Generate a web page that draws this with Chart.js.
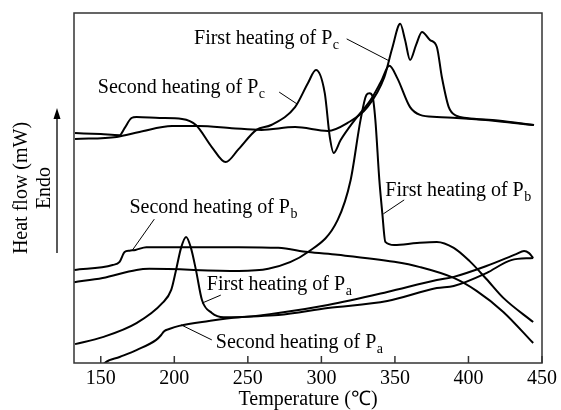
<!DOCTYPE html>
<html><head><meta charset="utf-8">
<script src="https://cdn.jsdelivr.net/npm/chart.js@4"></script>
<style>html,body{margin:0;padding:0;background:#fff}</style>
</head><body>
<canvas id="c" width="561" height="410"></canvas>
<script>
// ---- data (temperature in °C, heat flow in arbitrary units) ----
const pc1T = [132.5,160.8,176.3,198.5,216.7,239.0,259.2,282.1,304.4,317.8,331.3,342.8,348.2,353.6,356.9,360.3,364.4,368.4,373.8,378.5,381.9,386.6,392.0,398.7,420,444.6];
const pc1  = [64.0,64.6,66.0,67.7,67.7,67.1,66.6,67.4,66.3,68.6,73.1,81.7,90.0,96.9,92.3,86.6,90.9,94.6,92.3,90.3,81.7,73.1,70.6,70.0,69.3,68.0];

const pc2T = [132.5,150,162.8,166.2,170.9,174.3,190,205.3,214.7,225.5,234.9,243.7,255.8,265.9,282.1,290.9,296.3,302.3,305.7,308.4,313.1,322.6,333.4,340.4,346.2,351.6,360.3,367.1,378.5,392,420,444];
const pc2  = [65.7,65.4,65.1,67.1,70.0,70.3,70.0,69.7,68.0,61.7,57.4,61.1,66.6,68.0,73.1,80.0,83.7,77.1,64.6,60.0,63.7,69.4,75.1,80.3,84.9,81.4,73.1,70.9,70.3,70.0,69.1,68.0];

const pb1T = [132,151.3,174.3,183.0,243.7,263.9,290.9,311.1,319.9,326.6,330.6,332.7,334.7,336.7,339.4,341.4,343.5,349.5,365.0,378.5,390.0,400.8,412.2,423.7,444];
const pb1  = [23.1,24.3,26.6,26.9,26.3,26.9,31.7,40.9,52.3,69.4,76.6,77.1,76.3,69.4,52.3,42.9,34.6,33.7,34.3,34.6,32.9,29.1,24.0,18.6,11.7];

const pb2T = [132,158.1,162.8,166.2,169.5,173.6,181.0,203.3,243.7,270.7,290.9,311.1,349.5,367.1,390.0,405.5,423.7,444];
const pb2  = [26.6,28.0,28.9,31.7,32.1,32.3,33.1,33.1,33.1,32.9,31.7,30.9,28.9,27.4,24.3,20.6,14.6,5.7];

const pa1T = [132.5,151.3,174.3,191.8,197.9,201.2,204.6,208.0,211.3,214.7,218.8,225.5,233.6,243.7,270.7,304.4,344.8,378.5,390.0,412.2,432.4,437.8,441.2,444];
const pa1  = [5.4,7.4,11.4,17.1,20.9,26.6,32.9,36.0,32.9,26.6,18.0,14.3,13.1,13.1,14.3,16.6,20.3,23.7,24.6,27.7,31.1,32.0,31.4,30.0];

const pa2T = [150,152.7,162.8,174.3,187.7,191.1,193.1,196.5,203.3,223.5,243.7,270.7,304.4,344.8,378.5,390.0,412.2,429.1,444];
const pa2  = [-1.5,0,1.7,3.7,6.6,8.0,9.1,9.7,10.6,12.0,13.1,13.7,15.7,17.7,21.4,22.0,25.7,29.4,30.0];

const xTickStep = 50;

// ---- annotation layout (text anchor & leader lines in data coordinates) ----
const notes = [
  {text:'First heating of P',  sub:'c', at:[213.4,91.1], from:[317.2,92.6], to:[346.2,86.3]},
  {text:'Second heating of P', sub:'c', at:[148.0,77.1], from:[271.3,77.4], to:[283.5,74.0]},
  {text:'Second heating of P', sub:'b', at:[169.5,42.9], from:[186.4,41.1], to:[171.6,32.3]},
  {text:'First heating of P',  sub:'b', at:[343.5,47.7], from:[356.3,46.6], to:[342.1,42.6]},
  {text:'First heating of P',  sub:'a', at:[222.1,20.9], from:[231.6,19.4], to:[218.8,17.1]},
  {text:'Second heating of P', sub:'a', at:[228.2,4.3],  from:[225.5,6.6],  to:[204.6,10.9]}
];

const FONT = "'Liberation Serif','Times New Roman',serif";
const series = [[pc1T,pc1],[pc2T,pc2],[pb1T,pb1],[pb2T,pb2],[pa1T,pa1],[pa2T,pa2]];
const datasets = series.map(([t,v]) => ({
  data: t.map((x,i)=>({x:x, y:v[i]})),
  borderColor:'#000', borderWidth:2, pointRadius:0, fill:false,
  cubicInterpolationMode:'monotone'
}));

const decor = {
  id:'decor',
  afterDraw(chart){
    const {ctx, chartArea:a, scales:{x,y}} = chart;
    ctx.save();
    // frame
    ctx.strokeStyle='#333'; ctx.lineWidth=1.5;
    ctx.strokeRect(a.left, a.top, a.right-a.left, a.bottom-a.top);
    // inward ticks
    x.ticks.forEach(t=>{
      const px = x.getPixelForValue(t.value);
      ctx.beginPath(); ctx.moveTo(px,a.bottom); ctx.lineTo(px,a.bottom-7); ctx.stroke();
    });
    // Endo arrow
    const ax = a.left-17, ay0 = a.bottom-110, ay1 = a.top+95;
    ctx.strokeStyle='#000'; ctx.lineWidth=1.3;
    ctx.beginPath(); ctx.moveTo(ax,ay0); ctx.lineTo(ax,ay1+8); ctx.stroke();
    ctx.fillStyle='#000';
    ctx.beginPath(); ctx.moveTo(ax,ay1); ctx.lineTo(ax-3.5,ay1+11); ctx.lineTo(ax+3.5,ay1+11); ctx.closePath(); ctx.fill();
    // annotations
    ctx.lineWidth=1; ctx.strokeStyle='#000'; ctx.textBaseline='alphabetic'; ctx.textAlign='left';
    notes.forEach(n=>{
      const px = x.getPixelForValue(n.at[0]), py = y.getPixelForValue(n.at[1]);
      ctx.font = '20px '+FONT;
      ctx.fillText(n.text, px, py);
      const w = ctx.measureText(n.text).width;
      ctx.font = '14px '+FONT;
      ctx.fillText(n.sub, px+w+0.5, py+5);
      ctx.beginPath();
      ctx.moveTo(x.getPixelForValue(n.from[0]), y.getPixelForValue(n.from[1]));
      ctx.lineTo(x.getPixelForValue(n.to[0]), y.getPixelForValue(n.to[1]));
      ctx.stroke();
    });
    ctx.restore();
  }
};

new Chart(document.getElementById('c'), {
  type:'line',
  data:{datasets},
  options:{
    responsive:false, animation:false, devicePixelRatio:1,
    layout:{padding:{left:0,right:15,top:13,bottom:0}},
    plugins:{legend:{display:false}, tooltip:{enabled:false}},
    scales:{
      x:{type:'linear', min:131.8, max:450,
         ticks:{stepSize:xTickStep, includeBounds:false, padding:4, color:'#000', maxRotation:0, autoSkip:false,
                font:{family:FONT, size:20}},
         grid:{display:false, drawTicks:false}, border:{display:false},
         title:{display:true, text:'Temperature (℃)', color:'#000', padding:0,
                font:{family:FONT, size:20, lineHeight:1}},
         afterFit(s){ s.height = 47; }},
      y:{min:0, max:100,
         ticks:{display:false}, grid:{display:false, drawTicks:false}, border:{display:false},
         title:{display:true, text:['Heat flow (mW)','Endo'], color:'#000', padding:{top:10.5,bottom:0},
                font:{family:FONT, size:20, lineHeight:1.15}},
         afterFit(s){ s.width = 74; }}
    }
  },
  plugins:[decor]
});
</script>
</body></html>
